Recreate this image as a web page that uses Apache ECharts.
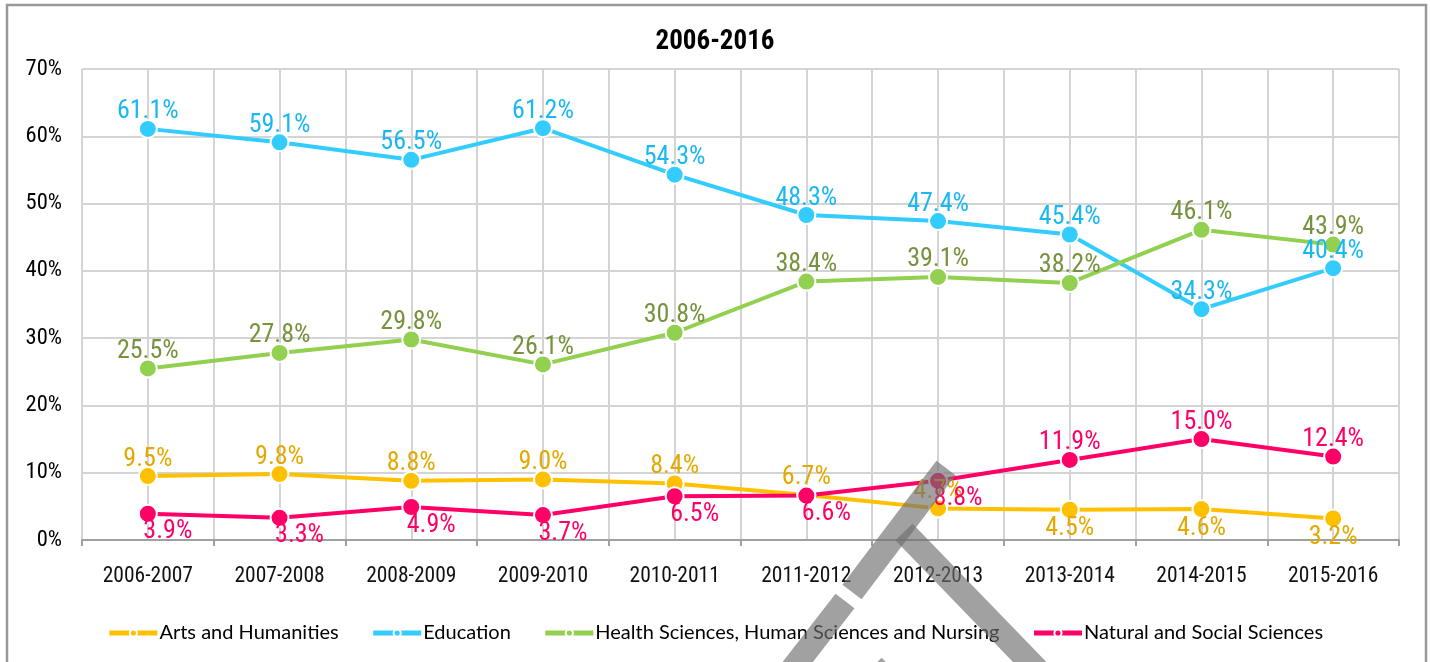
<!DOCTYPE html>
<html lang="en">
<head>
    <meta charset="utf-8">
    <title>2006-2016</title>
    <script src="https://cdn.jsdelivr.net/npm/echarts@6/dist/echarts.min.js"></script>
    <style>
        html, body { margin: 0; padding: 0; background: #fff; }
        #main { width: 1430px; height: 662px; }
    </style>
</head>
<body>
<div id="main"></div>
<script type="text/javascript">
    // data
    const categories = ['2006-2007', '2007-2008', '2008-2009', '2009-2010', '2010-2011',
        '2011-2012', '2012-2013', '2013-2014', '2014-2015', '2015-2016'];
    const arts = [9.5, 9.8, 8.8, 9.0, 8.4, 6.7, 4.7, 4.5, 4.6, 3.2];
    const education = [61.1, 59.1, 56.5, 61.2, 54.3, 48.3, 47.4, 45.4, 34.3, 40.4];
    const health = [25.5, 27.8, 29.8, 26.1, 30.8, 38.4, 39.1, 38.2, 46.1, 43.9];
    const natural = [3.9, 3.3, 4.9, 3.7, 6.5, 6.6, 8.8, 11.9, 15.0, 12.4];

    // where each point's label sits
    const artsPlace = ['t', 't', 't', 't', 't', 't', 't', 'b', 'b', 'b'];
    const naturalPlace = ['br', 'br', 'br', 'br', 'br', 'br', 'br', 't', 't', 't'];
    const allTop = ['t', 't', 't', 't', 't', 't', 't', 't', 't', 't'];

    const narrow = '"Noto Sans ExtraCondensed", "Noto Sans Condensed", "Roboto Condensed", "DejaVu Sans Condensed", sans-serif';

    function placeLabel(p) {
        if (p === 'b') return {position: 'bottom', distance: -4};
        if (p === 'br') return {position: 'bottom', distance: -5, offset: [20, 0]};
        return {position: 'top', distance: -6};
    }

    function makeSeries(name, values, lineColor, labelColor, places) {
        return {
            name: name,
            type: 'line',
            data: values.map(function (v, i) {
                return {value: v, label: placeLabel(places[i])};
            }),
            symbol: 'circle',
            symbolSize: 18,
            lineStyle: {color: lineColor, width: 4},
            itemStyle: {color: lineColor, borderColor: '#fff', borderWidth: 2},
            label: {
                show: true,
                color: labelColor,
                fontFamily: narrow,
                fontSize: 26,
                formatter: function (p) { return p.value.toFixed(1) + '%'; }
            },
            emphasis: {disabled: true},
            animation: false
        };
    }

    function mark(x1, y1, x2, y2) {
        return {
            type: 'line', z: 100, silent: true,
            shape: {x1: x1, y1: y1, x2: x2, y2: y2},
            style: {stroke: 'rgba(110,110,110,0.65)', lineWidth: 24, lineCap: 'butt'}
        };
    }

    const myChart = echarts.init(document.getElementById('main'));
    const option = {
        backgroundColor: '#fff',
        animation: false,
        title: {
            text: '2006-2016',
            left: 'center',
            top: 24,
            textStyle: {fontFamily: narrow, fontSize: 27, fontWeight: 'bold', color: '#000'}
        },
        legend: {
            bottom: 14,
            left: 'center',
            itemWidth: 48,
            itemHeight: 9,
            itemGap: 32,
            lineStyle: {width: 5},
            textStyle: {fontFamily: 'Lato, "Open Sans", sans-serif', fontSize: 20, color: '#000', padding: [0, 0, 0, -3]},
            data: ['Arts and Humanities', 'Education', 'Health Sciences, Human Sciences and Nursing', 'Natural and Social Sciences']
        },
        grid: {left: 82, right: 31, top: 69, bottom: 122},
        xAxis: [{
            type: 'category',
            data: categories,
            axisLine: {lineStyle: {color: '#a0a0a0', width: 2}},
            axisTick: {show: true, length: 6, interval: 0, lineStyle: {color: '#a0a0a0', width: 2}},
            axisLabel: {color: '#111', fontFamily: narrow, fontSize: 21.5, margin: 26, interval: 0},
            splitLine: {show: false}
        }, {
            type: 'value',
            min: 0,
            max: 10,
            interval: 0.5,
            position: 'top',
            axisLine: {show: false},
            axisTick: {show: false},
            axisLabel: {show: false},
            splitLine: {show: true, lineStyle: {color: '#d4d4d4', width: 2}}
        }],
        yAxis: {
            type: 'value',
            min: 0,
            max: 70,
            interval: 10,
            axisLine: {show: false},
            axisTick: {show: false},
            axisLabel: {color: '#000', fontFamily: narrow, fontSize: 22.5, margin: 20, formatter: '{value}%'},
            splitLine: {lineStyle: {color: '#d4d4d4', width: 2}}
        },
        series: [
            makeSeries('Arts and Humanities', arts, '#FFC000', '#E3A900', artsPlace),
            makeSeries('Education', education, '#33CCFF', '#1AB8F2', allTop),
            makeSeries('Health Sciences, Human Sciences and Nursing', health, '#92D050', '#76923C', allTop),
            makeSeries('Natural and Social Sciences', natural, '#FF0066', '#FF0066', naturalPlace)
        ],
        graphic: [
            {
                type: 'rect', silent: true, z: 100,
                shape: {x: 7, y: 5, width: 1419, height: 700},
                style: {fill: 'none', stroke: '#999', lineWidth: 2.5}
            },
            mark(946, 468, 852, 592),
            mark(845, 601, 759, 712),
            mark(904, 532, 1050, 683),
            mark(873, 666, 930, 726)
        ]
    };
    myChart.setOption(option);
</script>
</body>
</html>
